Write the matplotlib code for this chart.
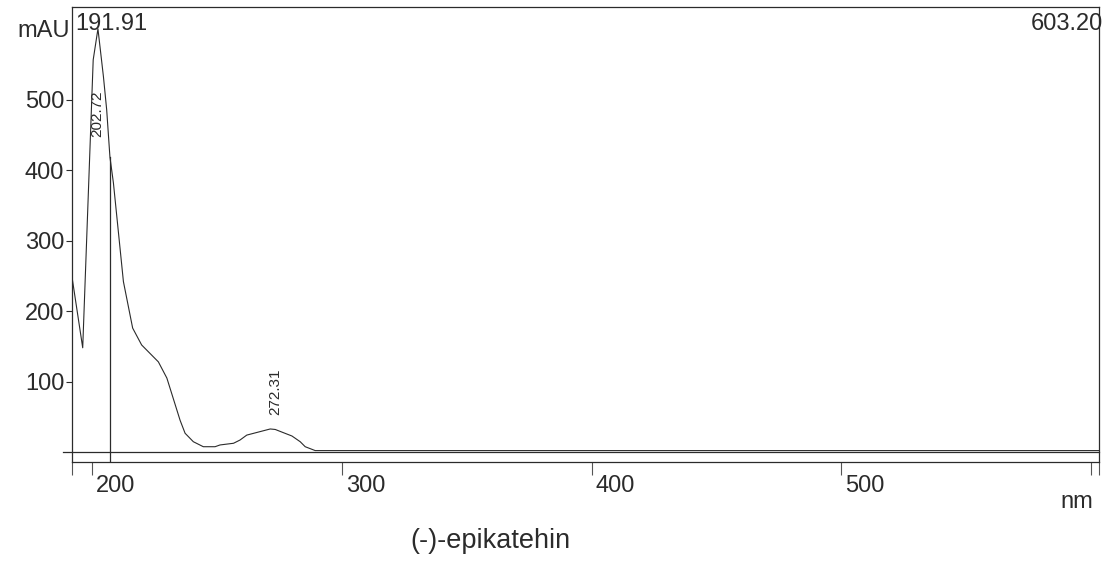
import matplotlib
matplotlib.use("Agg")
import matplotlib.pyplot as plt
import matplotlib.transforms as mtransforms
import numpy as np

# UV spectrum of (-)-epikatehin
wl = [191.91, 196.2, 200.4, 202.3, 204.5, 205.8, 207.1, 208.5, 212.5, 216.2,
      219.8, 226.5, 229.9, 235.2, 237.2, 240.5, 244.5, 249.2, 251.2, 256.6,
      259.2, 261.9, 267.3, 271.3, 273.3, 276.6, 280.0, 283.3, 285.3, 288.0,
      289.3, 603.2]
mau = [248.6, 148, 557, 601, 533, 486, 419, 382, 242, 176,
       152, 128, 105, 45, 26.6, 14.6, 7.5, 7.5, 10, 12.4,
       17, 24, 29, 32.7, 32, 27.4, 22.7, 14.6, 7.5, 3.8,
       2.0, 2.0]

peak_names = ["202.72", "272.31"]
peak_pos = [(201.9, 447), (273.3, 52)]   # where the rotated labels sit
marker_wl = 207.1
xmin, xmax = 191.91, 603.20
xticks = [200, 300, 400, 500, 600]
xticklabels = ["200", "300", "400", "500", ""]
yticks = [100, 200, 300, 400, 500]

ink = "#2b2b2b"
plt.rcParams["font.family"] = ["Liberation Sans", "DejaVu Sans"]

fig = plt.figure(figsize=(11.14, 5.62), dpi=100)
ax = fig.add_axes([72/1114, 1 - 461.5/562, (1099-72)/1114, (461.5-7)/562])

ax.plot(wl, mau, color=ink, lw=0.8)
ax.set_xlim(xmin, xmax)
ax.set_ylim(-13.5, 632)

# zero baseline, sticking out a little to the left
ax.plot([188.4, xmax], [0, 0], color=ink, lw=0.9, clip_on=False)
# wavelength marker
ax.plot([marker_wl, marker_wl], [-13.5, np.interp(marker_wl, wl, mau)],
        color=ink, lw=0.9)

for s in ax.spines.values():
    s.set_color(ink)
    s.set_linewidth(0.9)

ax.set_xticks([xmin] + xticks + [xmax])
ax.set_xticklabels([""] + xticklabels + [""], fontsize=17, color=ink, ha="left")
ax.tick_params(axis="x", direction="out", length=9, width=0.8, color="#555555", pad=0.5)
off = mtransforms.ScaledTranslation(4/100, 0, fig.dpi_scale_trans)
for lab in ax.get_xticklabels():
    lab.set_transform(lab.get_transform() + off)

ax.set_yticks(yticks)
ax.set_yticklabels([str(v) for v in yticks], fontsize=17, color=ink)
ax.tick_params(axis="y", direction="out", length=4, width=0.8, color=ink, pad=1.5)

# range and unit labels
ax.text(0.003, 0.987, f"{xmin:.2f}", transform=ax.transAxes, ha="left", va="top",
        fontsize=17, color=ink)
ax.text(1.004, 0.987, f"{xmax:.2f}", transform=ax.transAxes, ha="right", va="top",
        fontsize=17, color=ink)
fig.text(70/1114, 1 - 31/562, "mAU", ha="right", va="center", fontsize=17, color=ink)
fig.text(1093/1114, 1 - 502/562, "nm", ha="right", va="center", fontsize=17, color=ink)
fig.text(490/1114, 1 - 541/562, "(-)-epikatehin", ha="center", va="center",
         fontsize=19.5, color=ink)

for name, (px, py) in zip(peak_names, peak_pos):
    ax.text(px, py, name, rotation=90, ha="center", va="bottom", fontsize=11,
            color=ink, fontstretch="condensed")

fig.savefig("out.png", dpi=100)
